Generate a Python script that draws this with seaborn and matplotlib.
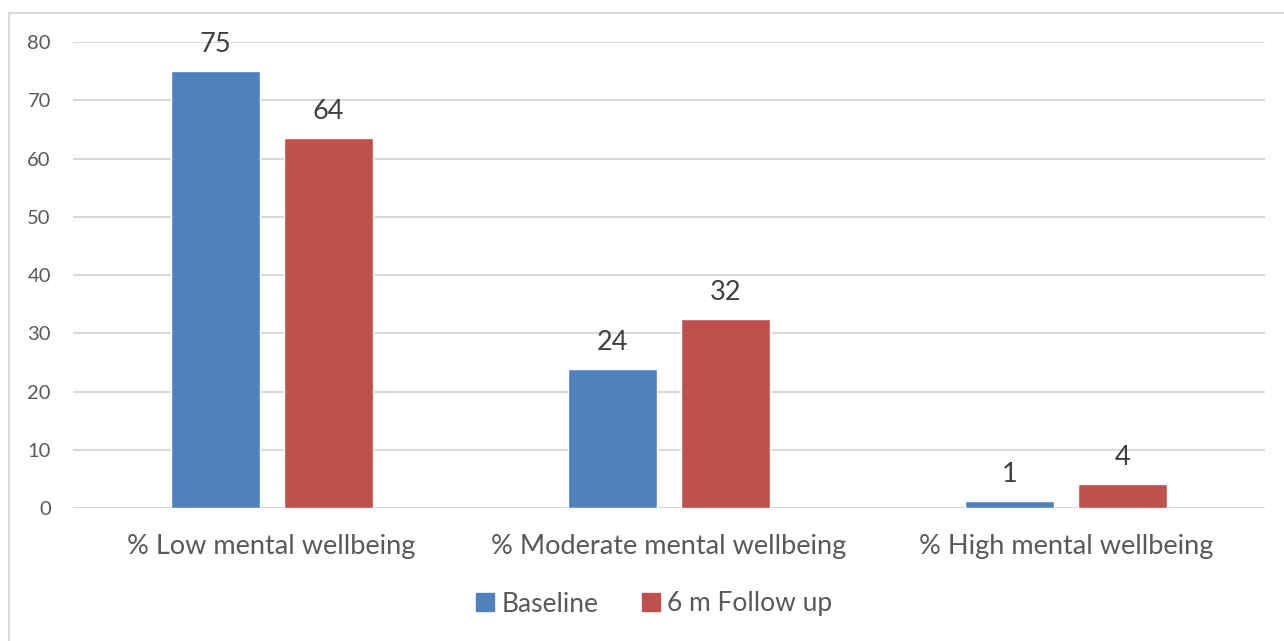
import matplotlib
matplotlib.use("Agg")
import matplotlib.pyplot as plt
import seaborn as sns
import pandas as pd
from matplotlib.lines import Line2D

# Share of respondents in each mental wellbeing band (%)
categories = ["% Low mental wellbeing", "% Moderate mental wellbeing", "% High mental wellbeing"]
baseline = [75.0, 23.9, 1.2]
follow_up = [63.5, 32.4, 4.1]
series_names = ["Baseline", "6 m Follow up"]
y_ticks = [0, 10, 20, 30, 40, 50, 60, 70, 80]

df = pd.DataFrame({
    "category": categories * 2,
    "value": baseline + follow_up,
    "series": [series_names[0]] * 3 + [series_names[1]] * 3,
})

sns.set_theme(style="white")
plt.rcParams["font.family"] = ["Lato", "DejaVu Sans"]

text_color = "#595959"
grid_color = "#D9D9D9"
palette = ["#4F81BD", "#C0504D"]

fig = plt.figure(figsize=(12.84, 6.41), dpi=100)
ax = fig.add_axes([73 / 1284, 1 - 508 / 641, (1265 - 73) / 1284, (508 - 42) / 641])

sns.barplot(data=df, x="category", y="value", hue="series", palette=palette,
            width=0.569, gap=0.213, saturation=1, ax=ax, legend=False)

for cont in ax.containers:
    ax.bar_label(cont, fmt="{:.0f}", padding=10, fontsize=19.5, color="#404040")

ax.set_ylim(0, 80)
ax.set_yticks(y_ticks)
ax.set_xlim(-0.5, 2.5)
ax.yaxis.grid(True, color=grid_color, linewidth=1.5)
ax.set_axisbelow(True)
for s in ax.spines.values():
    s.set_visible(False)
ax.tick_params(axis="y", length=0, pad=16, labelsize=14.5, labelcolor=text_color)
ax.tick_params(axis="x", length=0, pad=19, labelsize=19.5, labelcolor=text_color)
ax.set_xlabel("")
ax.set_ylabel("")

handles = [Line2D([], [], marker="s", linestyle="none", markersize=13,
                  markerfacecolor=c, markeredgecolor=c) for c in palette]
fig.legend(handles, series_names, loc="center", bbox_to_anchor=(652 / 1284, 1 - 604 / 641),
           ncol=2, frameon=False, fontsize=19, labelcolor=text_color,
           handletextpad=0.1, columnspacing=1.5, handlelength=1.0)

# Chart area outline (top and left edges)
fig.add_artist(Line2D([9 / 1284, 1.0], [1 - 13 / 641, 1 - 13 / 641], transform=fig.transFigure,
                      color=grid_color, linewidth=1.5))
fig.add_artist(Line2D([9 / 1284, 9 / 1284], [0.0, 1 - 13 / 641], transform=fig.transFigure,
                      color=grid_color, linewidth=1.5))

fig.savefig("out.png", dpi=100, facecolor="white")
